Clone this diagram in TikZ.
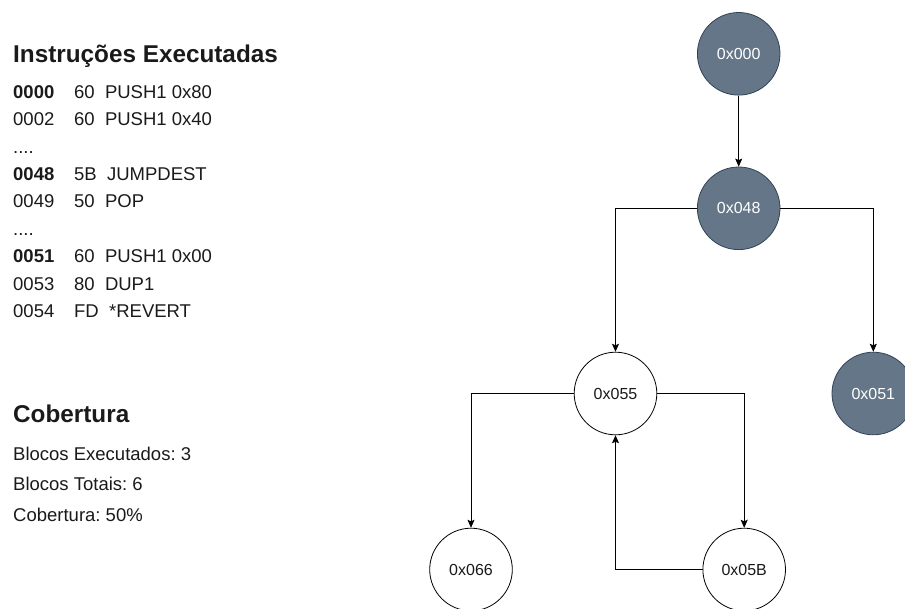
\documentclass[tikz,border=0pt]{standalone}
\usepackage{fontspec}
\setmainfont{Liberation Sans}
\usetikzlibrary{arrows.meta}
\definecolor{blockfill}{HTML}{647687}
\definecolor{blockline}{HTML}{314354}
\definecolor{inktext}{HTML}{1A1A1A}
% address column of the listing
\newcommand\addrcol[1]{\makebox[61pt][l]{#1}}
\frenchspacing
\begin{document}
\begin{tikzpicture}[x=1pt,y=-1pt,
  heading/.style={anchor=base west,inner sep=0pt,text=inktext,
    font=\fontsize{24.3}{28}\selectfont\bfseries},
  listing/.style={anchor=base west,inner sep=0pt,text=inktext,
    font=\fontsize{18.5}{21}\selectfont},
  block/.style={circle,minimum size=82.6pt,inner sep=0pt,line width=0.8pt,
    font=\fontsize{16}{19}\selectfont},
  visited/.style={block,draw=blockline,fill=blockfill,text=white},
  unvisited/.style={block,draw=black,fill=white,text=inktext},
  edge/.style={draw=black,line width=0.8pt,
    -{Stealth[length=8pt,width=7pt,inset=1.5pt]}}]
\path[use as bounding box,clip] (0,0) rectangle (905,608);

% executed instructions
\node[heading] (t1) at (13,62) {Instruções Executadas};
\node[listing] (l1) at (13,98.3)  {\addrcol{\bfseries 0000}60\ \ PUSH1 0x80};
\node[listing] (l2) at (13,125.7) {\addrcol{0002}60\ \ PUSH1 0x40};
\node[listing] (l3) at (13,153)   {....};
\node[listing] (l4) at (13,180)   {\addrcol{\bfseries 0048}5B\ \ JUMPDEST};
\node[listing] (l5) at (13,207)   {\addrcol{0049}50\ \ POP};
\node[listing] (l6) at (13,235)   {....};
\node[listing] (l7) at (13,262)   {\addrcol{\bfseries 0051}60\ \ PUSH1 0x00};
\node[listing] (l8) at (13,290)   {\addrcol{0053}80\ \ DUP1};
\node[listing] (l9) at (13,317)   {\addrcol{0054}FD\ \ *REVERT};

% coverage summary
\node[heading] (t2) at (13,422) {Cobertura};
\node[listing] (c1) at (13,460)   {Blocos Executados: 3};
\node[listing] (c2) at (13,490.5) {Blocos Totais: 6};
\node[listing] (c3) at (13,521.5) {Cobertura: 50\%};

% control-flow graph
\node[visited]   (n000) at (738.7,53.8)  {0x000};
\node[visited]   (n048) at (738.7,208.3) {0x048};
\node[unvisited] (n055) at (615.5,393.5) {0x055};
\node[visited]   (n051) at (873.3,393.5) {0x051};
\node[unvisited] (n066) at (471,569.5)   {0x066};
\node[unvisited] (n05B) at (744.2,569.5) {0x05B};

\draw[edge] (n000) -- (n048);
\draw[edge] (n048.west) -| (n055.north);
\draw[edge] (n048.east) -| (n051.north);
\draw[edge] (n055.west) -| (n066.north);
\draw[edge] (n055.east) -| (n05B.north);
\draw[edge] (n05B.west) -| (n055.south);
\end{tikzpicture}
\end{document}
